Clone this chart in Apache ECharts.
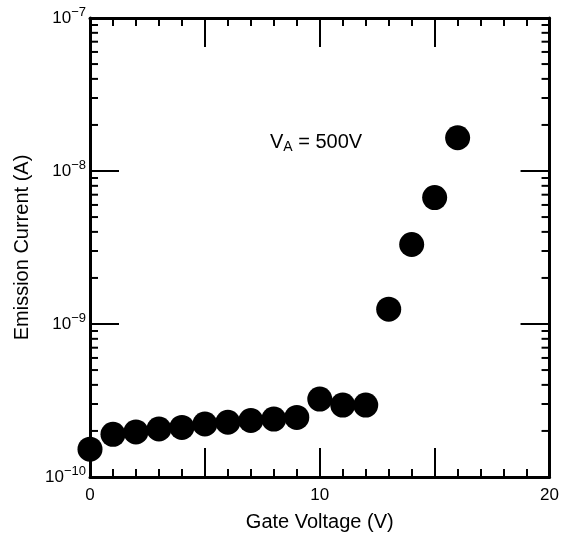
<!DOCTYPE html>
<html>
<head>
<meta charset="utf-8">
<script src="https://cdn.jsdelivr.net/npm/echarts@6/dist/echarts.min.js"></script>
<style>
  html, body { margin: 0; padding: 0; background: #fff; }
  #chart { width: 562px; height: 537px; }
</style>
</head>
<body>
<div id="chart"></div>
<script>
// gate voltage (V) and emission current (A)
const gateVoltage = [0, 1, 2, 3, 4, 5, 6, 7, 8, 9, 10, 11, 12, 13, 14, 15, 16]
const emissionCurrent = [
    1.52e-10, 1.90e-10, 1.97e-10, 2.06e-10, 2.11e-10, 2.22e-10, 2.28e-10, 2.34e-10,
    2.39e-10, 2.45e-10, 3.23e-10, 2.95e-10, 2.95e-10, 1.25e-9, 3.31e-9, 6.7e-9, 1.65e-8
]
const xTickLabels = [0, 10, 20]
const yDecades = [-10, -9, -8, -7]
const minorMultipliers = [2, 3, 4, 5, 6, 7, 8, 9]

// minor log ticks (2..9 x 10^k) for every decade below the top one
const minorTickValues = []
yDecades.slice(0, -1).forEach(k => {
    minorMultipliers.forEach(m => minorTickValues.push(m * Math.pow(10, k)))
})

const font = "'Liberation Sans', Arial, Helvetica, sans-serif"
const black = '#000'

const chart = echarts.init(document.getElementById('chart'))

const baseX = {
    type: 'value',
    min: 0,
    max: 20,
    interval: 5,
    splitLine: { show: false },
    axisLine: { show: true, onZero: false, lineStyle: { color: black, width: 3 } },
    axisTick: { show: true, inside: true, length: 29, lineStyle: { color: black, width: 2 } },
    minorTick: { show: true, splitNumber: 5, length: 8, lineStyle: { color: black, width: 2 } },
    minorSplitLine: { show: false }
}

const baseY = {
    type: 'log',
    logBase: 10,
    min: 1e-10,
    max: 1e-7,
    splitLine: { show: false },
    axisLine: { show: true, onZero: false, lineStyle: { color: black, width: 3 } },
    axisTick: { show: true, inside: true, length: 29, lineStyle: { color: black, width: 2 } }
}

const option = {
    animation: false,
    backgroundColor: '#fff',
    grid: { left: 90, right: 10, top: 18, bottom: 59, containLabel: false },
    xAxis: [
        Object.assign({}, baseX, {
            position: 'bottom',
            name: 'Gate Voltage (V)',
            nameLocation: 'middle',
            nameGap: 35,
            nameTextStyle: { fontFamily: font, fontSize: 20, color: black },
            axisLabel: {
                margin: 10,
                fontFamily: font,
                fontSize: 17,
                color: black,
                formatter: v => (xTickLabels.indexOf(v) >= 0 ? String(v) : '')
            }
        }),
        Object.assign({}, baseX, { position: 'top', axisLabel: { show: false } })
    ],
    yAxis: [
        Object.assign({}, baseY, {
            position: 'left',
            name: 'Emission Current (A)',
            nameLocation: 'middle',
            nameGap: 58,
            nameTextStyle: { fontFamily: font, fontSize: 20, color: black },
            axisLabel: {
                margin: 4,
                fontFamily: font,
                color: black,
                formatter: v => {
                    const k = Math.round(Math.log10(v))
                    return '{b|10}{s|−' + Math.abs(k) + '}'
                },
                rich: {
                    b: { fontFamily: font, fontSize: 17, lineHeight: 17, color: black },
                    s: { fontFamily: font, fontSize: 13, lineHeight: 13, color: black, padding: [0, 0, 12, 0] }
                }
            }
        }),
        Object.assign({}, baseY, { position: 'right', axisLabel: { show: false } })
    ],
    graphic: [
        {
            type: 'text',
            x: 270,
            y: 142,
            style: {
                text: '{v|V}{a|A}{t| = 500V}',
                textVerticalAlign: 'middle',
                rich: {
                    v: { fontFamily: font, fontSize: 20, lineHeight: 20, fill: black },
                    a: { fontFamily: font, fontSize: 14, lineHeight: 14, fill: black, padding: [10, 0, 0, 0] },
                    t: { fontFamily: font, fontSize: 20, lineHeight: 20, fill: black }
                }
            }
        }
    ],
    series: [
        {
            // minor ticks of the log axes, placed through the y scale
            type: 'custom',
            silent: true,
            xAxisIndex: 0,
            yAxisIndex: 0,
            data: minorTickValues.map(v => [0, v]),
            renderItem (params, api) {
                const y = api.coord([0, api.value(1)])[1]
                const left = params.coordSys.x
                const right = left + params.coordSys.width
                const style = { stroke: black, lineWidth: 2 }
                return {
                    type: 'group',
                    children: [
                        { type: 'line', shape: { x1: left, y1: y, x2: left + 8, y2: y }, style },
                        { type: 'line', shape: { x1: right, y1: y, x2: right - 8, y2: y }, style }
                    ]
                }
            }
        },
        {
            type: 'scatter',
            symbol: 'circle',
            symbolSize: 25,
            itemStyle: { color: black, opacity: 1 },
            data: gateVoltage.map((v, i) => [v, emissionCurrent[i]])
        }
    ]
}

chart.setOption(option)
</script>
</body>
</html>
